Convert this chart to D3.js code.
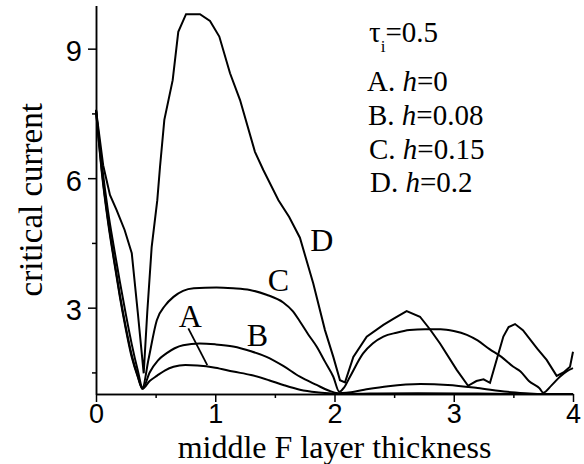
<!DOCTYPE html>
<html>
<head>
<meta charset="utf-8">
<script src="https://cdn.jsdelivr.net/npm/d3@7"></script>
<style>
  body { margin: 0; background: #fff; }
  svg { font-family: "Liberation Serif", "Times New Roman", serif; }
  .axis path, .axis line { stroke: #000; stroke-width: 1.5; }
  .axis text { font-size: 29px; fill: #000; }
  .x-axis text { font-size: 27px; }
  .curve { fill: none; stroke: #000; stroke-width: 2; }
</style>
</head>
<body>
<div id="chart"></div>
<script>
// x: middle F layer thickness, y: critical current
const curveA = [
  [0, 7.58], [0.05, 6.1], [0.1, 5.0], [0.15, 4.1], [0.2, 3.25], [0.25, 2.5],
  [0.3, 1.85], [0.35, 1.4], [0.39, 1.12], [0.45, 1.3], [0.51, 1.42], [0.58, 1.55],
  [0.65, 1.63], [0.75, 1.67], [0.85, 1.66], [1.0, 1.61], [1.15, 1.52], [1.3, 1.44],
  [1.45, 1.32], [1.57, 1.21], [1.71, 1.1], [1.85, 1.04], [2.0, 1.01], [2.05, 1.0],
  [2.3, 1.01], [2.7, 1.02], [3.2, 1.01], [3.6, 1.0], [4.0, 1.0]
];
const curveB = [
  [0, 7.58], [0.05, 6.15], [0.1, 5.05], [0.15, 4.15], [0.2, 3.3], [0.25, 2.55],
  [0.3, 1.9], [0.35, 1.42], [0.39, 1.12], [0.45, 1.5], [0.52, 1.78], [0.59, 1.94],
  [0.66, 2.06], [0.73, 2.13], [0.87, 2.17], [1.0, 2.15], [1.15, 2.1], [1.3, 1.99],
  [1.43, 1.86], [1.57, 1.65], [1.71, 1.4], [1.85, 1.21], [1.95, 1.08], [2.03, 1.02],
  [2.1, 1.03], [2.25, 1.1], [2.45, 1.18], [2.72, 1.23], [2.95, 1.21], [3.2, 1.14],
  [3.45, 1.05], [3.6, 1.02], [3.75, 1.0], [4.0, 1.0]
];
const curveC = [
  [0, 7.58], [0.05, 6.3], [0.1, 5.25], [0.15, 4.4], [0.2, 3.6], [0.25, 2.85],
  [0.3, 2.15], [0.35, 1.55], [0.39, 1.15], [0.44, 1.8], [0.51, 2.71], [0.58, 3.05],
  [0.65, 3.25], [0.73, 3.39], [0.82, 3.45], [1.01, 3.47], [1.15, 3.45], [1.29, 3.41],
  [1.43, 3.3], [1.57, 3.12], [1.65, 2.92], [1.71, 2.68], [1.78, 2.38], [1.85, 2.1],
  [1.92, 1.75], [1.99, 1.4], [2.04, 1.05], [2.08, 1.15], [2.13, 1.4], [2.24, 1.94],
  [2.32, 2.17], [2.41, 2.33], [2.52, 2.42], [2.63, 2.48], [2.76, 2.5], [2.89, 2.5],
  [3.0, 2.46], [3.11, 2.37], [3.2, 2.24], [3.3, 2.04], [3.4, 1.86], [3.5, 1.63],
  [3.56, 1.52], [3.63, 1.3], [3.72, 1.13], [3.75, 1.03], [3.82, 1.2], [3.89, 1.4],
  [3.95, 1.53], [4.0, 1.6]
];
const curveD = [
  [0, 7.58], [0.06, 6.3], [0.117, 5.61], [0.173, 5.26], [0.24, 4.8], [0.3, 4.26],
  [0.35, 2.9], [0.4, 1.48], [0.43, 2.9], [0.467, 4.41], [0.514, 5.49], [0.537, 6.27],
  [0.573, 7.35], [0.643, 8.27], [0.69, 9.39], [0.755, 9.8], [0.872, 9.8], [0.956, 9.64],
  [1.034, 9.28], [1.124, 8.43], [1.208, 7.81], [1.333, 6.61], [1.403, 6.19], [1.53, 5.49],
  [1.62, 5.1], [1.71, 4.62], [1.822, 3.56], [1.92, 2.48], [1.99, 1.86], [2.046, 1.32],
  [2.088, 1.27], [2.158, 1.86], [2.27, 2.33], [2.41, 2.6], [2.5, 2.75], [2.605, 2.92],
  [2.717, 2.79], [2.8, 2.5], [2.885, 2.17], [3.025, 1.56], [3.12, 1.19], [3.19, 1.3],
  [3.25, 1.34], [3.304, 1.26], [3.35, 1.7], [3.416, 2.33], [3.46, 2.55], [3.514, 2.62],
  [3.58, 2.48], [3.7, 2.05], [3.779, 1.79], [3.863, 1.42], [3.92, 1.5], [3.975, 1.63],
  [4.0, 1.98]
];

const xMajorTicks = [0, 1, 2, 3, 4];
const xMinorTicks = [0.5, 1.5, 2.5, 3.5];
const yMajorTicks = [3, 6, 9];
const yMinorTicks = [1.5, 4.5, 7.5];

// curve letters, placed in data units
const curveLabels = [
  { text: "A", x: 0.79, y: 2.55 },
  { text: "B", x: 1.354, y: 2.11 },
  { text: "C", x: 1.529, y: 3.39 },
  { text: "D", x: 1.893, y: 4.31 }
];
const pointerA = [[0.774, 2.52], [0.933, 1.67]];

const legendTitle = { tau: "τ", sub: "i", rest: "=0.5" };
const legendRows = [
  { letter: "A.", value: "=0" },
  { letter: "B.", value: "=0.08" },
  { letter: "C.", value: "=0.15" },
  { letter: "D.", value: "=0.2" }
];

class CurveChart {
  constructor(config) {
    this.config = {
      parentElement: config.parentElement,
      containerWidth: config.containerWidth || 584,
      containerHeight: config.containerHeight || 464,
      margin: { top: 5.5, right: 11, bottom: 70, left: 96 }
    };
    this.series = [
      { data: curveA, curve: d3.curveMonotoneX },
      { data: curveB, curve: d3.curveMonotoneX },
      { data: curveC, curve: d3.curveMonotoneX },
      { data: curveD, curve: d3.curveLinear }
    ];
    this.initVis();
  }

  initVis() {
    const vis = this;
    vis.setupDimensions();
    vis.createScales();
    vis.drawAxes();
    vis.drawLines();
    vis.addLabels();
    vis.addLegend();
  }

  setupDimensions() {
    const vis = this;
    vis.width = vis.config.containerWidth - vis.config.margin.left - vis.config.margin.right;
    vis.height = vis.config.containerHeight - vis.config.margin.top - vis.config.margin.bottom;

    vis.svg = d3
      .select(vis.config.parentElement)
      .append("svg")
      .attr("width", vis.config.containerWidth)
      .attr("height", vis.config.containerHeight)
      .append("g")
      .attr("transform", `translate(${vis.config.margin.left},${vis.config.margin.top})`);
  }

  createScales() {
    const vis = this;
    vis.xScale = d3.scaleLinear().domain([0, 4]).range([0, vis.width]);
    vis.yScale = d3.scaleLinear().domain([1, 10]).range([vis.height, 0]);
  }

  drawAxes() {
    const vis = this;

    // minor ticks first, no labels
    vis.svg.append("g")
      .attr("class", "axis")
      .attr("transform", `translate(0,${vis.height})`)
      .call(d3.axisBottom(vis.xScale).tickValues(xMinorTicks).tickSize(4).tickSizeOuter(0).tickFormat(""));
    vis.svg.append("g")
      .attr("class", "axis")
      .call(d3.axisLeft(vis.yScale).tickValues(yMinorTicks).tickSize(4).tickSizeOuter(0).tickFormat(""));

    vis.xAxis = vis.svg.append("g")
      .attr("class", "axis x-axis")
      .attr("transform", `translate(0,${vis.height})`)
      .call(d3.axisBottom(vis.xScale).tickValues(xMajorTicks).tickSize(8).tickSizeOuter(0).tickPadding(2).tickFormat(d3.format("d")));

    vis.yAxis = vis.svg.append("g")
      .attr("class", "axis y-axis")
      .call(d3.axisLeft(vis.yScale).tickValues(yMajorTicks).tickSize(8).tickSizeOuter(0).tickPadding(6).tickFormat(d3.format("d")));

    vis.xAxis.selectAll("text").attr("dy", "0.71em");
    vis.yAxis.selectAll("text").attr("dy", "0.42em");
  }

  drawLines() {
    const vis = this;
    vis.series.forEach((s) => {
      const line = d3.line()
        .x((d) => vis.xScale(d[0]))
        .y((d) => vis.yScale(d[1]))
        .curve(s.curve);
      vis.svg.append("path")
        .datum(s.data)
        .attr("class", "curve")
        .attr("d", line);
    });
  }

  addLabels() {
    const vis = this;

    vis.svg.append("text")
      .attr("x", vis.width / 2)
      .attr("y", vis.height + 64)
      .attr("text-anchor", "middle")
      .attr("font-size", 32)
      .text("middle F layer thickness");

    vis.svg.append("text")
      .attr("transform", "rotate(-90)")
      .attr("x", -vis.height / 2)
      .attr("y", -54)
      .attr("text-anchor", "middle")
      .attr("font-size", 33)
      .text("critical current");

    vis.svg.selectAll(".curve-label")
      .data(curveLabels)
      .enter()
      .append("text")
      .attr("class", "curve-label")
      .attr("x", (d) => vis.xScale(d.x))
      .attr("y", (d) => vis.yScale(d.y))
      .attr("text-anchor", "middle")
      .attr("font-size", 32)
      .text((d) => d.text);

    vis.svg.append("line")
      .attr("x1", vis.xScale(pointerA[0][0]))
      .attr("y1", vis.yScale(pointerA[0][1]))
      .attr("x2", vis.xScale(pointerA[1][0]))
      .attr("y2", vis.yScale(pointerA[1][1]))
      .attr("stroke", "#000")
      .attr("stroke-width", 1.8);
  }

  addLegend() {
    const vis = this;
    const lg = vis.svg.append("g")
      .attr("transform", `translate(${369 - vis.config.margin.left},${42 - vis.config.margin.top})`)
      .attr("font-size", 29);

    const title = lg.append("text").attr("x", 0).attr("y", 0);
    title.append("tspan").text(legendTitle.tau);
    title.append("tspan").attr("font-size", 17).attr("dy", 10).text(legendTitle.sub);
    title.append("tspan").attr("dy", -10).text(legendTitle.rest);

    legendRows.forEach((r, i) => {
      const t = lg.append("text").attr("x", -2 + i).attr("y", 49 + i * 33.8);
      t.append("tspan").text(r.letter + " ");
      t.append("tspan").attr("font-style", "italic").text("h");
      t.append("tspan").text(r.value);
    });
  }
}

new CurveChart({ parentElement: "#chart", containerWidth: 584, containerHeight: 464 });
</script>
</body>
</html>
